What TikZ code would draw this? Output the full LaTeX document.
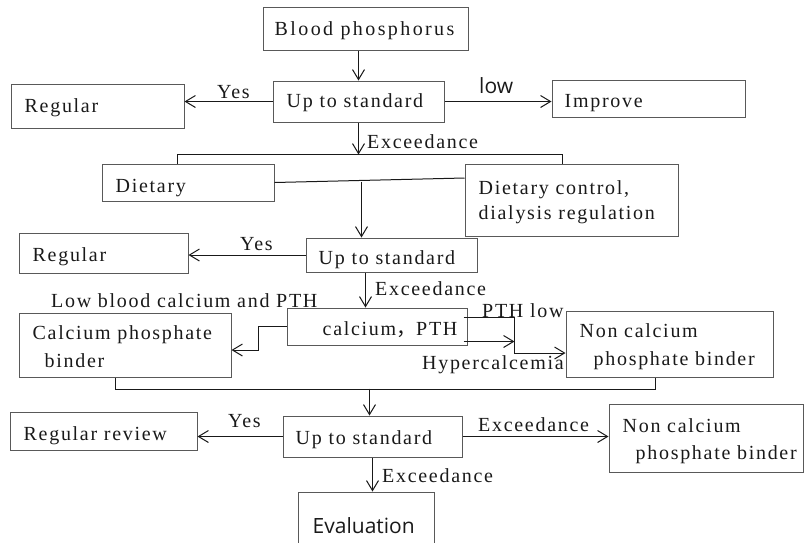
\documentclass[tikz,border=0pt]{standalone}
\usepackage{fontspec}
\setmainfont{Liberation Serif}[LetterSpace=8.5]
\newfontfamily\sansf{Open Sans}
\newfontfamily\cjk{Noto Sans CJK SC}
\usetikzlibrary{arrows.meta,calc}
\begin{document}
\begin{tikzpicture}[x=1pt,y=-1pt,
  box/.style={draw=black!65, line width=1pt, inner sep=0pt},
  txt/.style={anchor=base west, inner sep=0pt, font=\fontsize{20}{24}\selectfont, text=black!90},
  stxt/.style={anchor=base west, inner sep=0pt, font=\sansf\fontsize{21}{25}\selectfont, text=black!90},
  conn/.style={draw=black!90, line width=1pt},
  arr/.style={conn, -{Straight Barb[length=10pt,width=12pt,line width=1pt]}}]
\clip (0,0) rectangle (804,542);
% boxes
\node[box, minimum width=205pt, minimum height=43pt] (bp) at (365.5,28.5) {};
\node[box, minimum width=171pt, minimum height=41pt] (up1) at (358.5,101.5) {};
\node[box, minimum width=173pt, minimum height=44pt] (reg1) at (97.5,106) {};
\node[box, minimum width=193pt, minimum height=37pt] (imp) at (648.5,98.5) {};
\node[box, minimum width=172pt, minimum height=37pt] (diet) at (188,182.5) {};
\node[box, minimum width=213pt, minimum height=72pt] (dc) at (571.5,200) {};
\node[box, minimum width=171pt, minimum height=34pt] (up2) at (391.5,255) {};
\node[box, minimum width=169pt, minimum height=40pt] (reg2) at (103.5,253) {};
\node[box, minimum width=180pt, minimum height=37pt] (ca) at (377,326.5) {};
\node[box, minimum width=212pt, minimum height=64pt] (cpb) at (125,345) {};
\node[box, minimum width=207pt, minimum height=66pt] (ncpb1) at (669.5,344) {};
\node[box, minimum width=179pt, minimum height=41pt] (up3) at (372.5,436.5) {};
\node[box, minimum width=187pt, minimum height=38pt] (rr) at (103.5,431) {};
\node[box, minimum width=194pt, minimum height=68pt] (ncpb2) at (706,438) {};
\node[box, minimum width=136pt, minimum height=70pt] (ev) at (366,527) {};
% box texts
\node[txt] (bpt) at ($(bp.north west)+(12,29)$) {\addfontfeature{LetterSpace=12}Blood phosphorus};
\node[txt] (up1t) at ($(up1.north west)+(14,27)$) {Up to standard};
\node[txt] (reg1t) at ($(reg1.north west)+(14,29)$) {Regular};
\node[txt] (impt) at ($(imp.north west)+(13,28)$) {Improve};
\node[txt] (diett) at ($(diet.north west)+(14,29)$) {Dietary};
\node[txt] (dct1) at ($(dc.north west)+(14,31)$) {Dietary control,};
\node[txt] (dct2) at ($(dc.north west)+(14,56)$) {dialysis regulation};
\node[txt] (up2t) at ($(up2.north west)+(13,27)$) {Up to standard};
\node[txt] (reg2t) at ($(reg2.north west)+(14,29)$) {Regular};
\node[txt] (cat) at ($(ca.north west)+(36,28)$) {calcium{\cjk ，}PTH};
\node[txt] (cpbt1) at ($(cpb.north west)+(14,27)$) {Calcium phosphate};
\node[txt] (cpbt2) at ($(cpb.north west)+(26,55)$) {binder};
\node[txt] (ncpb1t1) at ($(ncpb1.north west)+(14,27)$) {Non calcium};
\node[txt] (ncpb1t2) at ($(ncpb1.north west)+(28,55)$) {phosphate binder};
\node[txt] (up3t) at ($(up3.north west)+(13,29)$) {Up to standard};
\node[txt] (rrt) at ($(rr.north west)+(14,29)$) {Regular review};
\node[txt] (ncpb2t1) at ($(ncpb2.north west)+(14,29)$) {Non calcium};
\node[txt] (ncpb2t2) at ($(ncpb2.north west)+(27,56)$) {phosphate binder};
\node[stxt] (evt) at ($(ev.north west)+(15,42)$) {Evaluation};
% connectors
\draw[arr] (bp.south -| up1.north) -- (up1.north);
\draw[arr] (up1.west) -- (up1.west -| reg1.east);
\draw[arr] (up1.east) -- (up1.east -| imp.west);
\draw[arr] (up1.south) -- ++(0,32) coordinate (j1);
\draw[conn] ($(diet.north west)+(76,0)$) |- (j1) -| ($(dc.north west)+(98,0)$);
\draw[conn] (diet.east) -- ($(dc.west)+(0,-22)$);
\draw[arr] ($(up2.north west)+(56,-56)$) -- ($(up2.north west)+(56,0)$);
\draw[arr] (up2.west) -- (up2.west -| reg2.east);
\coordinate (t2) at ($(up2.south west)+(60,0)$);
\draw[arr] (t2) -- (t2 |- ca.north);
\draw[arr] (ca.west) -- ++(-28,0) |- ($(cpb.east)+(0,5)$);
\coordinate (k) at ($(ncpb1.west)+(-51,9)$);
\draw[arr] ($(ca.north east)+(-4,10)$) -| (k) -- (k -| ncpb1.west);
\coordinate (h) at ($(ca.south east)+(-4,-4)$);
\draw[arr] (h) -- (h -| k);
\draw[conn] ($(cpb.south west)+(97,0)$) |- ($(ncpb1.south west)+(90,12)$) -- ($(ncpb1.south west)+(90,0)$);
\draw[arr] ($(up3.north west)+(87,-27)$) -- ($(up3.north west)+(87,0)$);
\draw[arr] (up3.west) -- (up3.west -| rr.east);
\draw[arr] (up3.east) -- (up3.east -| ncpb2.west);
\coordinate (t3) at ($(up3.south west)+(90,0)$);
\draw[arr] (t3) -- (t3 |- ev.north);
% connector labels
\node[txt] (lyes1) at (217,98) {Yes};
\node[stxt] (llow) at (479,93) {low};
\node[txt] (lexc1) at (367,148) {Exceedance};
\node[txt] (lyes2) at (240,250) {Yes};
\node[txt] (lexc2) at (375,295) {Exceedance};
\node[txt] (llbc) at (51,307) {Low blood calcium and PTH};
\node[txt] (lpth) at (482,317) {PTH low};
\node[txt] (lhyp) at (422,369) {Hypercalcemia};
\node[txt] (lyes3) at (228,427) {Yes};
\node[txt] (lexc3) at (478,431) {Exceedance};
\node[txt] (lexc4) at (382,482) {Exceedance};
\end{tikzpicture}
\end{document}
